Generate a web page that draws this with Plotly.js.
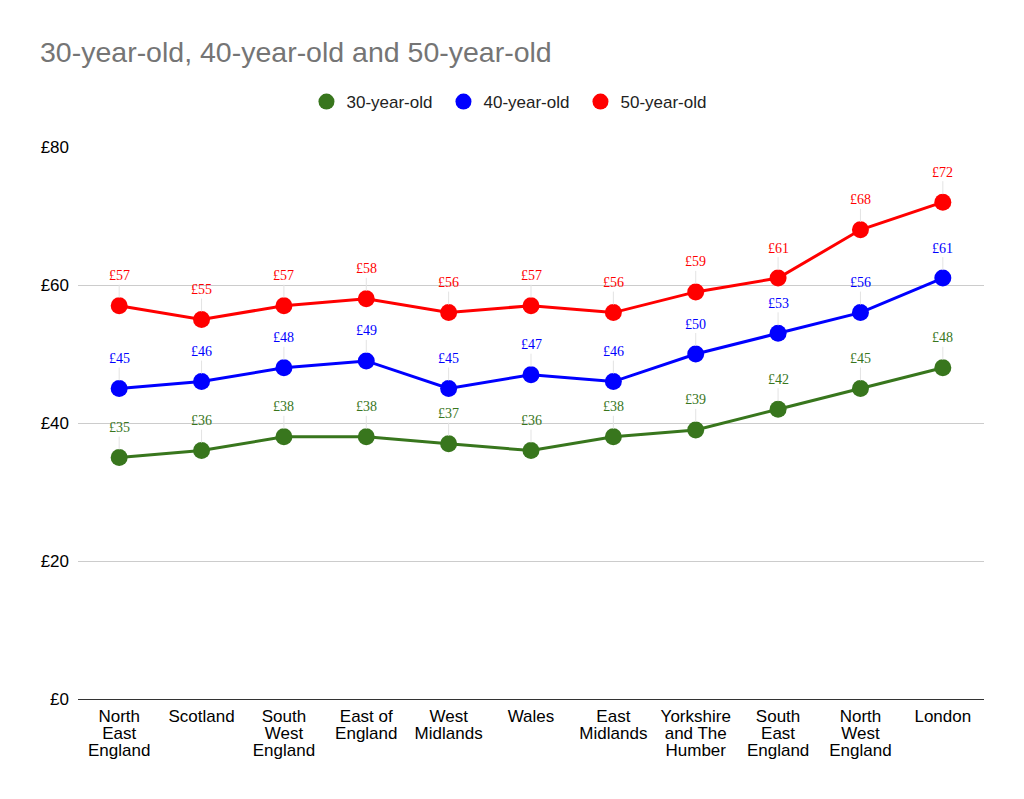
<!DOCTYPE html>
<html>
<head>
<meta charset="utf-8">
<script src="https://cdn.plot.ly/plotly-3.0.1.min.js"></script>
<style>
  html, body { margin: 0; padding: 0; background: #ffffff; }
  #chart { width: 1024px; height: 799px; }
</style>
</head>
<body>
<div id="chart"></div>
<script>
// Regions, ordered by cost; "\n" marks a line break in the axis label
const regions = [
  "North\nEast\nEngland", "Scotland", "South\nWest\nEngland", "East of\nEngland",
  "West\nMidlands", "Wales", "East\nMidlands", "Yorkshire\nand The\nHumber",
  "South\nEast\nEngland", "North\nWest\nEngland", "London"
];
const age30 = [35, 36, 38, 38, 37, 36, 38, 39, 42, 45, 48];
const age40 = [45, 46, 48, 49, 45, 47, 46, 50, 53, 56, 61];
const age50 = [57, 55, 57, 58, 56, 57, 56, 59, 61, 68, 72];
const seriesNames = ["30-year-old", "40-year-old", "50-year-old"];
const seriesColors = ["#38761d", "#0000ff", "#ff0000"];
const yTicks = [0, 20, 40, 60, 80];

const xIdx = regions.map((_, i) => i);
const allSeries = [age30, age40, age50];
const FONT = "Liberation Sans, Arial, sans-serif";

const traces = [];
allSeries.forEach((vals, s) => {
  traces.push({
    type: "scatter", mode: "lines+markers", name: seriesNames[s],
    x: xIdx, y: vals,
    line: { color: seriesColors[s], width: 3 },
    marker: { color: seriesColors[s], size: 17 },
    showlegend: false, hoverinfo: "skip"
  });
});
// Legend entries show a plain dot
allSeries.forEach((vals, s) => {
  traces.push({
    type: "scatter", mode: "markers", name: seriesNames[s],
    x: [null], y: [null],
    marker: { color: seriesColors[s], size: 17 },
    showlegend: true, hoverinfo: "skip"
  });
});
// Carrier traces so the 2nd and 3rd label rows get drawn
["x2", "x3"].forEach(ax => {
  traces.push({ type: "scatter", mode: "markers", x: [0], y: [null], xaxis: ax, showlegend: false, hoverinfo: "skip" });
});

// Value labels above each point with a faint leader line
const annotations = [];
allSeries.forEach((vals, s) => {
  vals.forEach((v, i) => {
    annotations.push({
      x: i, y: v, xref: "x", yref: "y",
      text: "£" + v,
      showarrow: true, arrowhead: 0, arrowwidth: 1, arrowcolor: "#e3e3e3",
      ax: 0, ay: -30, standoff: 8,
      font: { family: "Liberation Serif, Times New Roman, serif", size: 14, color: seriesColors[s] }
    });
  });
});

// Each row of the category labels sits on its own overlaid axis, 17px apart
const labelRow = r => regions.map(t => t.split("\n")[r] || "");
const rowStandoff = [1, 22, 39];
function rowAxis(r) {
  return {
    range: [-0.5, 10.5],
    tickmode: "array", tickvals: xIdx, ticktext: labelRow(r),
    showgrid: false, zeroline: false, ticks: "", tickangle: 0,
    ticklabelstandoff: rowStandoff[r],
    tickfont: { family: FONT, size: 17, color: "#000000" },
    fixedrange: true
  };
}
const xaxis = Object.assign(rowAxis(0), { showline: true, linecolor: "#333333", linewidth: 1.3 });
const xaxis2 = Object.assign(rowAxis(1), { overlaying: "x", matches: "x", showline: false });
const xaxis3 = Object.assign(rowAxis(2), { overlaying: "x", matches: "x", showline: false });

const layout = {
  width: 1024, height: 799,
  margin: { l: 78, r: 40, t: 147, b: 100, autoexpand: false },
  paper_bgcolor: "#ffffff", plot_bgcolor: "#ffffff",
  font: { family: FONT, size: 17, color: "#000000" },
  title: {
    text: "30-year-old, 40-year-old and 50-year-old",
    x: 40 / 1024, xanchor: "left", xref: "container",
    y: 1 - 52 / 799, yanchor: "middle", yref: "container",
    font: { family: FONT, size: 28.5, color: "#757575" }
  },
  showlegend: true,
  legend: {
    orientation: "h", x: 0.479, xanchor: "center", y: 1.0815, yanchor: "middle",
    font: { family: FONT, size: 17, color: "#222222" }, traceorder: "normal",
    itemwidth: 30, entrywidth: 92, entrywidthmode: "pixels"
  },
  xaxis: xaxis, xaxis2: xaxis2, xaxis3: xaxis3,
  yaxis: {
    range: [0, 80],
    tickmode: "array", tickvals: yTicks, ticktext: yTicks.map(v => "£" + v),
    showgrid: true, gridcolor: "#cccccc", gridwidth: 1,
    zeroline: false, showline: false, ticks: "",
    ticklabelstandoff: 8,
    tickfont: { family: FONT, size: 17, color: "#000000" }, fixedrange: true
  },
  annotations: annotations
};

Plotly.newPlot("chart", traces, layout, { displayModeBar: false, staticPlot: true });
</script>
</body>
</html>
